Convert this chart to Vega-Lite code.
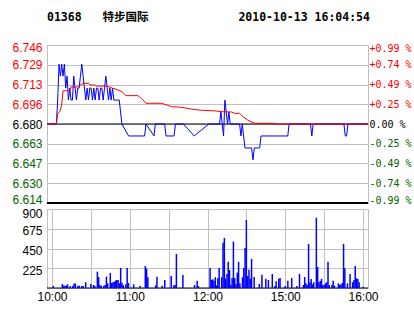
{
  "$schema": "https://vega.github.io/schema/vega-lite/v6.json",
  "background": "white",
  "autosize": {"type": "pad"},
  "padding": {"left": 11, "top": 12, "right": 0, "bottom": 8},
  "title": {
    "text": "01368\u00a0\u00a0\u00a0特步国际\u00a0\u00a0\u00a0\u00a0\u00a0\u00a0\u00a0\u00a0\u00a0\u00a0\u00a0\u00a0\u00a02010-10-13 16:04:54",
    "anchor": "start",
    "frame": "group",
    "font": "DejaVu Sans Mono, Noto Sans CJK SC",
    "fontSize": 11.5,
    "fontWeight": "bold",
    "color": "#000000",
    "offset": 17
  },
  "spacing": 6,
  "bounds": "flush",
  "config": {
    "view": {"stroke": "#c0c0c0", "strokeWidth": 1},
    "axis": {
      "domain": false,
      "ticks": false,
      "gridColor": "#c0c0c0",
      "gridWidth": 1,
      "labelFont": "Liberation Sans",
      "labelFontSize": 12,
      "labelColor": "#000000",
      "labelFlush": false,
      "labelOverlap": false
    }
  },
  "datasets": {
    "price": [
      {"m": 0, "p": 6.68}, {"m": 7, "p": 6.68}, {"m": 8, "p": 6.70}, {"m": 9, "p": 6.73}, {"m": 10, "p": 6.72},
      {"m": 11, "p": 6.73}, {"m": 12, "p": 6.72}, {"m": 13, "p": 6.73}, {"m": 14, "p": 6.71}, {"m": 15, "p": 6.72},
      {"m": 16, "p": 6.70}, {"m": 17, "p": 6.71}, {"m": 18, "p": 6.70}, {"m": 19, "p": 6.70}, {"m": 20, "p": 6.72},
      {"m": 21, "p": 6.71}, {"m": 22, "p": 6.70}, {"m": 23, "p": 6.71}, {"m": 24, "p": 6.71}, {"m": 25, "p": 6.72},
      {"m": 26, "p": 6.73}, {"m": 27, "p": 6.72}, {"m": 28, "p": 6.71}, {"m": 29, "p": 6.70}, {"m": 30, "p": 6.71},
      {"m": 31, "p": 6.70}, {"m": 32, "p": 6.71}, {"m": 33, "p": 6.71}, {"m": 34, "p": 6.70}, {"m": 35, "p": 6.71},
      {"m": 36, "p": 6.70}, {"m": 37, "p": 6.71}, {"m": 38, "p": 6.71}, {"m": 39, "p": 6.70}, {"m": 40, "p": 6.71},
      {"m": 41, "p": 6.71}, {"m": 42, "p": 6.70}, {"m": 43, "p": 6.71}, {"m": 44, "p": 6.72}, {"m": 45, "p": 6.71},
      {"m": 46, "p": 6.70}, {"m": 47, "p": 6.71}, {"m": 48, "p": 6.70}, {"m": 49, "p": 6.71}, {"m": 50, "p": 6.70},
      {"m": 54, "p": 6.70}, {"m": 55, "p": 6.69}, {"m": 56, "p": 6.68}, {"m": 61, "p": 6.67}, {"m": 73, "p": 6.67},
      {"m": 74, "p": 6.68}, {"m": 80, "p": 6.67}, {"m": 81, "p": 6.68}, {"m": 88, "p": 6.68}, {"m": 89, "p": 6.67},
      {"m": 95, "p": 6.67}, {"m": 96, "p": 6.68}, {"m": 102, "p": 6.68}, {"m": 110, "p": 6.67}, {"m": 121, "p": 6.68},
      {"m": 129, "p": 6.68}, {"m": 130, "p": 6.69}, {"m": 131, "p": 6.68}, {"m": 132, "p": 6.67}, {"m": 133, "p": 6.70},
      {"m": 134, "p": 6.69}, {"m": 135, "p": 6.68}, {"m": 136, "p": 6.69}, {"m": 137, "p": 6.68}, {"m": 144, "p": 6.68},
      {"m": 145, "p": 6.67}, {"m": 146, "p": 6.68}, {"m": 147, "p": 6.67}, {"m": 148, "p": 6.66}, {"m": 153, "p": 6.66},
      {"m": 154, "p": 6.65}, {"m": 155, "p": 6.66}, {"m": 159, "p": 6.66}, {"m": 160, "p": 6.67}, {"m": 180, "p": 6.67},
      {"m": 181, "p": 6.68}, {"m": 197, "p": 6.68}, {"m": 198, "p": 6.67}, {"m": 199, "p": 6.68}, {"m": 222, "p": 6.68},
      {"m": 223, "p": 6.67}, {"m": 224, "p": 6.67}, {"m": 225, "p": 6.68}, {"m": 240, "p": 6.68}
    ],
    "avg": [
      {"m": 0, "a": 6.680}, {"m": 7, "a": 6.680}, {"m": 8, "a": 6.6889}, {"m": 9.5, "a": 6.6903}, {"m": 10.7, "a": 6.6945},
      {"m": 11.4, "a": 6.7001}, {"m": 12, "a": 6.7078}, {"m": 17, "a": 6.7078}, {"m": 18, "a": 6.7112}, {"m": 21, "a": 6.7105},
      {"m": 23, "a": 6.7112}, {"m": 27, "a": 6.7140}, {"m": 31, "a": 6.7140}, {"m": 32, "a": 6.7126}, {"m": 36, "a": 6.7126},
      {"m": 37, "a": 6.7117}, {"m": 44, "a": 6.7117}, {"m": 46, "a": 6.7112}, {"m": 48, "a": 6.7103}, {"m": 51, "a": 6.7092},
      {"m": 53, "a": 6.7084}, {"m": 56, "a": 6.7070}, {"m": 58, "a": 6.7048}, {"m": 59, "a": 6.7037}, {"m": 68, "a": 6.7037},
      {"m": 70.5, "a": 6.7015}, {"m": 73, "a": 6.6987}, {"m": 74, "a": 6.6973}, {"m": 85.5, "a": 6.6973}, {"m": 88, "a": 6.6965},
      {"m": 93, "a": 6.6945}, {"m": 100, "a": 6.6940}, {"m": 108, "a": 6.6925}, {"m": 115, "a": 6.6915}, {"m": 125, "a": 6.6910},
      {"m": 131, "a": 6.6903}, {"m": 138, "a": 6.6900}, {"m": 140, "a": 6.6889}, {"m": 144, "a": 6.6889}, {"m": 146.5, "a": 6.6861},
      {"m": 150, "a": 6.6833}, {"m": 154, "a": 6.6811}, {"m": 156, "a": 6.6806}, {"m": 170, "a": 6.6806}, {"m": 172, "a": 6.6800},
      {"m": 240, "a": 6.6800}
    ],
    "vol": [
      {"m": 1, "v": 23}, {"m": 8, "v": 45}, {"m": 9, "v": 27}, {"m": 10, "v": 27}, {"m": 11, "v": 27}, {"m": 12, "v": 42},
      {"m": 14, "v": 23}, {"m": 16, "v": 23}, {"m": 17, "v": 50}, {"m": 18, "v": 50}, {"m": 20, "v": 27}, {"m": 21, "v": 27},
      {"m": 23, "v": 23}, {"m": 24, "v": 23}, {"m": 26, "v": 65}, {"m": 30, "v": 45}, {"m": 32, "v": 34}, {"m": 33, "v": 27},
      {"m": 35, "v": 186}, {"m": 36, "v": 125}, {"m": 37, "v": 34}, {"m": 38, "v": 27}, {"m": 40, "v": 27}, {"m": 41, "v": 34},
      {"m": 42, "v": 129}, {"m": 43, "v": 53}, {"m": 45, "v": 171}, {"m": 46, "v": 57}, {"m": 47, "v": 65}, {"m": 48, "v": 72},
      {"m": 49, "v": 84}, {"m": 50, "v": 91}, {"m": 51, "v": 91}, {"m": 52, "v": 53}, {"m": 53, "v": 228}, {"m": 54, "v": 61},
      {"m": 55, "v": 34}, {"m": 57, "v": 42}, {"m": 58, "v": 228}, {"m": 59, "v": 57}, {"m": 63, "v": 42}, {"m": 68, "v": 23},
      {"m": 72, "v": 250}, {"m": 73, "v": 220}, {"m": 74, "v": 122}, {"m": 80, "v": 30}, {"m": 81, "v": 129}, {"m": 85, "v": 27},
      {"m": 87, "v": 91}, {"m": 92, "v": 137}, {"m": 94, "v": 30}, {"m": 95, "v": 34}, {"m": 96, "v": 387}, {"m": 101, "v": 148},
      {"m": 110, "v": 34}, {"m": 112, "v": 84}, {"m": 113, "v": 23}, {"m": 122, "v": 228}, {"m": 123, "v": 91}, {"m": 124, "v": 99},
      {"m": 125, "v": 84}, {"m": 126, "v": 122}, {"m": 127, "v": 30}, {"m": 128, "v": 114}, {"m": 129, "v": 228}, {"m": 131, "v": 122},
      {"m": 132, "v": 516}, {"m": 133, "v": 570}, {"m": 134, "v": 106}, {"m": 135, "v": 160}, {"m": 136, "v": 300}, {"m": 137, "v": 205},
      {"m": 138, "v": 38}, {"m": 139, "v": 114}, {"m": 140, "v": 528}, {"m": 141, "v": 114}, {"m": 142, "v": 46}, {"m": 143, "v": 175},
      {"m": 144, "v": 296}, {"m": 145, "v": 53}, {"m": 147, "v": 122}, {"m": 148, "v": 228}, {"m": 149, "v": 456}, {"m": 150, "v": 775},
      {"m": 151, "v": 137}, {"m": 152, "v": 209}, {"m": 153, "v": 106}, {"m": 154, "v": 330}, {"m": 156, "v": 125}, {"m": 160, "v": 46},
      {"m": 162, "v": 152}, {"m": 165, "v": 106}, {"m": 167, "v": 91}, {"m": 170, "v": 160}, {"m": 172, "v": 23}, {"m": 173, "v": 76},
      {"m": 175, "v": 106}, {"m": 176, "v": 114}, {"m": 180, "v": 23}, {"m": 182, "v": 84}, {"m": 185, "v": 114}, {"m": 189, "v": 23},
      {"m": 191, "v": 160}, {"m": 194, "v": 34}, {"m": 195, "v": 125}, {"m": 196, "v": 53}, {"m": 197, "v": 34}, {"m": 198, "v": 501},
      {"m": 199, "v": 65}, {"m": 200, "v": 103}, {"m": 201, "v": 42}, {"m": 202, "v": 65}, {"m": 204, "v": 801}, {"m": 205, "v": 239},
      {"m": 206, "v": 65}, {"m": 207, "v": 80}, {"m": 208, "v": 103}, {"m": 209, "v": 34}, {"m": 210, "v": 34}, {"m": 211, "v": 53},
      {"m": 212, "v": 65}, {"m": 213, "v": 300}, {"m": 214, "v": 34}, {"m": 216, "v": 34}, {"m": 217, "v": 84}, {"m": 218, "v": 27},
      {"m": 221, "v": 53}, {"m": 222, "v": 34}, {"m": 223, "v": 42}, {"m": 224, "v": 57}, {"m": 225, "v": 501}, {"m": 226, "v": 224},
      {"m": 228, "v": 53}, {"m": 230, "v": 160}, {"m": 232, "v": 65}, {"m": 233, "v": 91}, {"m": 234, "v": 250}, {"m": 235, "v": 110},
      {"m": 236, "v": 103}, {"m": 237, "v": 65}, {"m": 240, "v": 15}
    ]
  },
  "vconcat": [
    {
      "width": 321,
      "height": 158,
      "resolve": {"axis": {"y": "independent"}},
      "layer": [
        {
          "data": {"values": [{"p": 6.68}]},
          "mark": {"type": "rule", "color": "#000000", "strokeWidth": 1},
          "encoding": {
            "y": {"field": "p", "type": "quantitative", "scale": {"domain": [6.614, 6.746], "nice": false, "zero": false}, "axis": null}
          }
        },
        {
          "data": {"values": [{"p": 6.614}]},
          "mark": {"type": "rule", "color": "#000000", "strokeWidth": 2},
          "encoding": {
            "y": {"field": "p", "type": "quantitative", "scale": {"domain": [6.614, 6.746], "nice": false, "zero": false}, "axis": null}
          }
        },
        {
          "data": {"name": "price"},
          "mark": {"type": "line", "color": "#0000ff", "strokeWidth": 1},
          "encoding": {
            "x": {
              "field": "m", "type": "quantitative", "title": null,
              "scale": {"domain": [0, 240], "nice": false, "zero": false},
              "axis": {"values": [0, 30, 60, 90, 120, 150, 180, 210, 240], "labels": false, "grid": true}
            },
            "y": {
              "field": "p", "type": "quantitative", "title": null,
              "scale": {"domain": [6.614, 6.746], "nice": false, "zero": false},
              "axis": {
                "orient": "left",
                "values": [6.614, 6.6305, 6.647, 6.6635, 6.68, 6.6965, 6.713, 6.7295, 6.746],
                "grid": true,
                "labelPadding": 5,
                "labelFlush": true,
                "labelFlushOffset": 3,
                "labelExpr": "format(floor(datum.value*1000+0.001)/1000, '.3f')",
                "labelColor": {"condition": [{"test": "datum.value > 6.681", "value": "#ff0000"}, {"test": "datum.value < 6.679", "value": "#006400"}], "value": "#000000"}
              }
            }
          }
        },
        {
          "data": {"name": "avg"},
          "mark": {"type": "line", "color": "#ff0000", "strokeWidth": 1},
          "encoding": {
            "x": {
              "field": "m", "type": "quantitative", "title": null,
              "scale": {"domain": [0, 240], "nice": false, "zero": false},
              "axis": null
            },
            "y": {
              "field": "a", "type": "quantitative", "title": null,
              "scale": {"domain": [6.614, 6.746], "nice": false, "zero": false},
              "axis": {
                "orient": "right",
                "values": [6.614, 6.6305, 6.647, 6.6635, 6.68, 6.6965, 6.713, 6.7295, 6.746],
                "grid": false,
                "labelPadding": 1,
                "labelFlush": true,
                "labelFlushOffset": 2,
                "labelFont": "DejaVu Sans Mono",
                "labelFontSize": 10,
                "labelExpr": "(datum.value > 6.681 ? '+' : datum.value < 6.679 ? '-' : '\u00a0') + format(abs(datum.value - 6.68) / 6.68 * 100, '.2f') + ' %'",
                "labelColor": {"condition": [{"test": "datum.value > 6.681", "value": "#ff0000"}, {"test": "datum.value < 6.679", "value": "#006400"}], "value": "#000000"}
              }
            }
          }
        }
      ]
    },
    {
      "width": 321,
      "height": 79,
      "resolve": {"axis": {"y": "independent"}},
      "layer": [
        {
          "data": {"values": [{"v": 0}]},
          "mark": {"type": "rule", "color": "#000000", "strokeWidth": 1},
          "encoding": {
            "y": {"field": "v", "type": "quantitative", "scale": {"domain": [0, 900], "nice": false}, "axis": null}
          }
        },
        {
          "data": {"name": "vol"},
          "mark": {"type": "bar", "color": "#0000ff", "width": 1.5},
          "encoding": {
            "x": {
              "field": "m", "type": "quantitative", "title": null,
              "scale": {"domain": [0, 240], "nice": false, "zero": false},
              "axis": {
                "values": [0, 30, 60, 90, 120, 150, 180, 210, 240],
                "grid": true,
                "labelPadding": 3,
                "labelExpr": "datum.value == 0 ? '10:00' : datum.value == 60 ? '11:00' : datum.value == 120 ? '12:00' : datum.value == 180 ? '15:00' : datum.value == 240 ? '16:00' : ''"
              }
            },
            "y": {
              "field": "v", "type": "quantitative", "title": null,
              "scale": {"domain": [0, 900], "nice": false},
              "axis": {"orient": "left", "values": [225, 450, 675, 900], "grid": true, "labelPadding": 5, "labelOffset": 2, "labelFlush": true, "labelFlushOffset": 3}
            }
          }
        }
      ]
    }
  ]
}
